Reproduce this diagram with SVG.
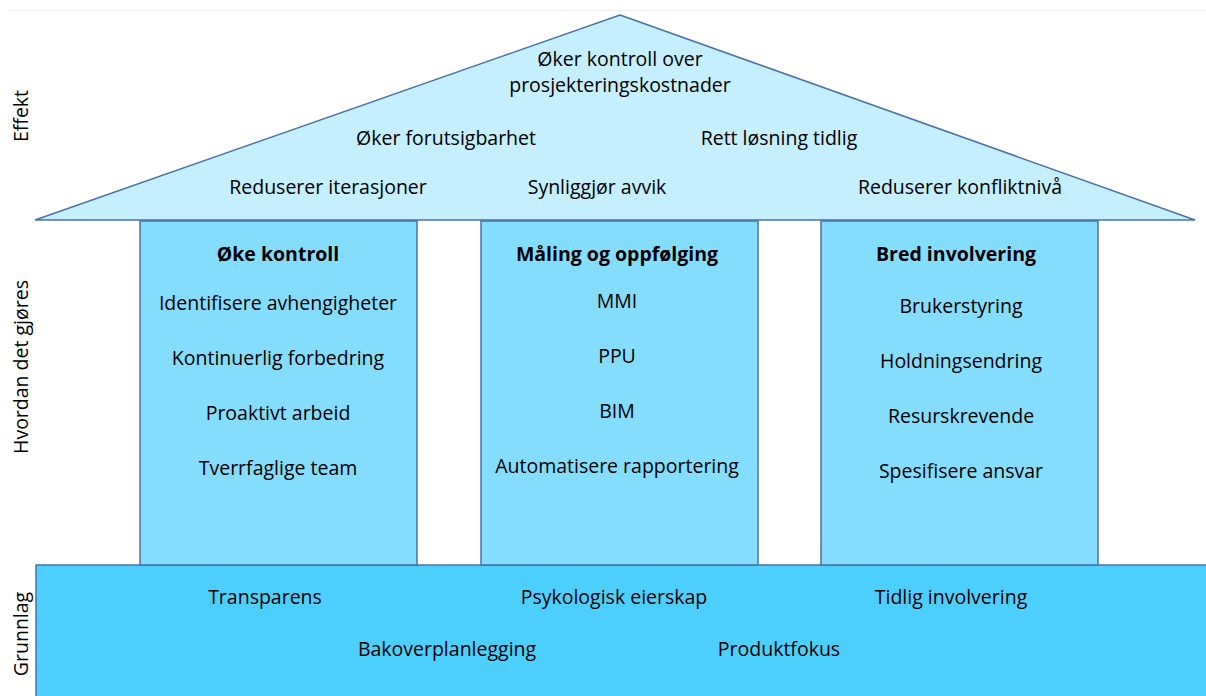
<svg xmlns="http://www.w3.org/2000/svg" width="1206" height="696" viewBox="0 0 1206 696">
  <style>
    text { font-family: "Open Sans", "Noto Sans", sans-serif; font-size: 19.5px; fill: #000; text-anchor: middle; }
    .hd { font-weight: bold; }
    .roof { fill: #C5EEFE; stroke: #4A72A8; stroke-width: 1.5; stroke-linejoin: miter; }
    .pillar { fill: #85DDFE; stroke: #4A72A8; stroke-width: 1.5; }
    .base { fill: #4DCFFE; stroke: #4A72A8; stroke-width: 1.5; }
  </style>
  <rect width="1206" height="696" fill="#FFFFFF"/>
  <line x1="10" y1="10.5" x2="1206" y2="10.5" stroke="#EFEFEF" stroke-width="1"/>

  <!-- side labels -->
  <g id="labels">
    <text transform="translate(28,116) rotate(-90)">Effekt</text>
    <text transform="translate(28,367) rotate(-90)">Hvordan det gjøres</text>
    <text transform="translate(28,634) rotate(-90)">Grunnlag</text>
  </g>

  <!-- foundation -->
  <g id="grunnlag">
    <rect class="base" x="36" y="565" width="1180" height="140"/>
    <text x="265" y="604">Transparens</text>
    <text x="614" y="604">Psykologisk eierskap</text>
    <text x="951" y="604">Tidlig involvering</text>
    <text x="447" y="656">Bakoverplanlegging</text>
    <text x="779" y="656">Produktfokus</text>
  </g>

  <!-- pillars -->
  <g id="pillar-kontroll">
    <rect class="pillar" x="140" y="221" width="277" height="344"/>
    <text class="hd" x="278" y="261">Øke kontroll</text>
    <text x="278" y="310">Identifisere avhengigheter</text>
    <text x="278" y="365">Kontinuerlig forbedring</text>
    <text x="278" y="420">Proaktivt arbeid</text>
    <text x="278" y="475">Tverrfaglige team</text>
  </g>
  <g id="pillar-maling">
    <rect class="pillar" x="481" y="221" width="277" height="344"/>
    <text class="hd" x="617" y="261">Måling og oppfølging</text>
    <text x="617" y="308">MMI</text>
    <text x="617" y="363">PPU</text>
    <text x="617" y="418">BIM</text>
    <text x="617" y="473">Automatisere rapportering</text>
  </g>
  <g id="pillar-involvering">
    <rect class="pillar" x="821" y="221" width="277" height="344"/>
    <text class="hd" x="956" y="261">Bred involvering</text>
    <text x="961" y="313">Brukerstyring</text>
    <text x="961" y="368">Holdningsendring</text>
    <text x="961" y="423">Resurskrevende</text>
    <text x="961" y="478">Spesifisere ansvar</text>
  </g>

  <!-- roof -->
  <g id="effekt">
    <polygon class="roof" points="620,15 1195,220 35,220"/>
    <text x="620" y="66">Øker kontroll over</text>
    <text x="620" y="92">prosjekteringskostnader</text>
    <text x="446" y="145">Øker forutsigbarhet</text>
    <text x="779" y="145">Rett løsning tidlig</text>
    <text x="328" y="194">Reduserer iterasjoner</text>
    <text x="597" y="194">Synliggjør avvik</text>
    <text x="960" y="194">Reduserer konfliktnivå</text>
  </g>
</svg>
